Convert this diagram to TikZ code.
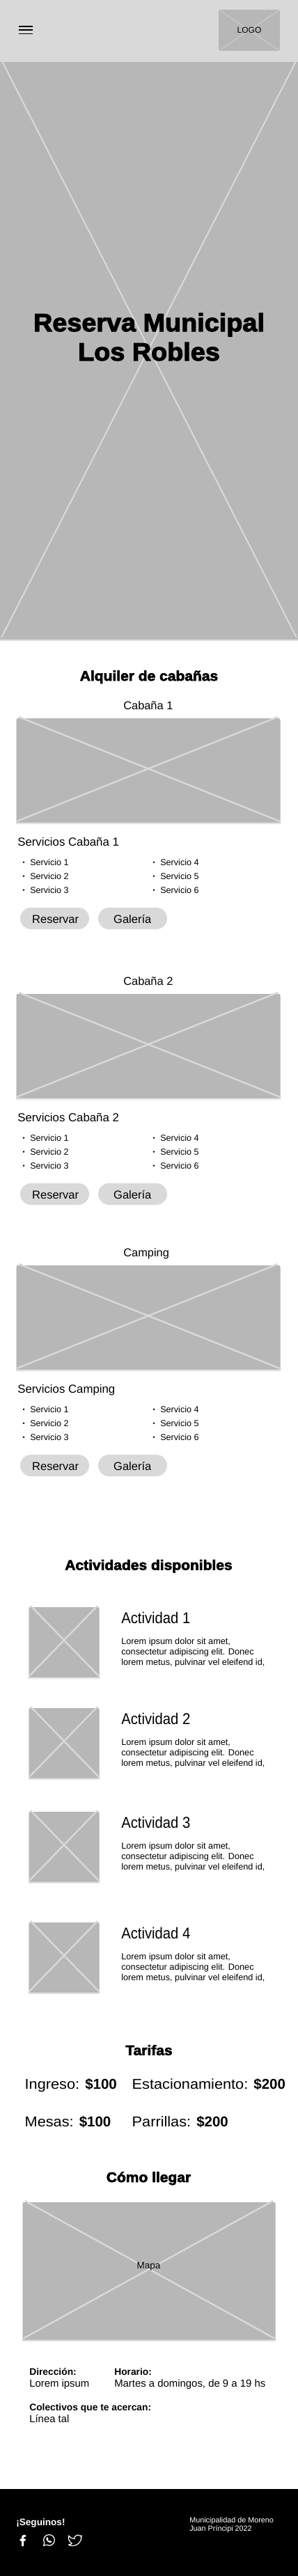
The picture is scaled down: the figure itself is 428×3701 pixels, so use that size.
\documentclass[tikz,border=0pt]{standalone}
\usepackage{fontspec}
\setmainfont{Liberation Sans}
\newfontfamily\heavy{Liberation Sans Bold}[FakeBold=3,FakeStretch=1.05]
\newfontfamily\semib{Liberation Sans Bold}
\newfontfamily\widef{Liberation Sans}[FakeStretch=1.06]
\newfontfamily\narr{Liberation Sans}[FakeStretch=0.9]
\definecolor{hdr}{HTML}{D9D9D9}
\definecolor{ph}{HTML}{B7B7B7}
\definecolor{xl}{HTML}{D9D9D9}
\tikzset{
  txt/.style={inner sep=0pt,outer sep=0pt,anchor=base west,text=black},
  ctr/.style={inner sep=0pt,outer sep=0pt,anchor=base,text=black},
  fnt/.style={font=\fontsize{#1}{#1}\selectfont},
  pill/.style={fill=hdr,rounded corners=15.5pt,draw=none},
  xline/.style={draw=xl,line width=2.4pt},
}
\newcommand{\wire}[6]{% name x1 y1 x2 y2 inset
  \foreach \s/\o in {5/0.03,4/0.05,3/0.07,2/0.08,1/0.10}{
    \fill[black,opacity=\o] (#2-0.25*\s,#3+2) rectangle (#4+0.25*\s,#5+\s);
  }
  \fill[ph] (#2,#3) rectangle (#4,#5);
  \coordinate (#1a) at (#2+#6,#3-2);
  \coordinate (#1b) at (#4,#5);
  \coordinate (#1c) at (#4-#6,#3-2);
  \coordinate (#1d) at (#2,#5);
  \draw[xline] (#1a) -- (#1b);
  \draw[xline] (#1c) -- (#1d);
}
\newcommand{\bul}[4]{\fill[black] (#1,#2-4.3) circle (1.3pt);
  \node[txt,fnt=12.6] (#3) at (#1+9.3,#2) {#4};}
\newcommand{\cabin}[4]{% key yoffset title servicios
  \begin{scope}[yshift=-#2pt]
    \node[txt,fnt=16.4] (t#1) at (177.3,1019) {#3};
    \wire{w#1}{24}{1032}{402}{1180}{3}
    \node[txt,fnt=16.8] (s#1) at (25.3,1215) {#4};
    \bul{34}{1243}{l#1a}{Servicio 1}
    \bul{34}{1263}{l#1b}{Servicio 2}
    \bul{34}{1283}{l#1c}{Servicio 3}
    \bul{221}{1243}{l#1d}{Servicio 4}
    \bul{221}{1263}{l#1e}{Servicio 5}
    \bul{221}{1283}{l#1f}{Servicio 6}
    \fill[pill] (29,1304) rectangle (128,1335);
    \fill[pill] (141,1304) rectangle (240,1335);
    \node[txt,fnt=16.5] (r#1) at (46.2,1326) {Reservar};
    \node[txt,fnt=16.5] (g#1) at (163.2,1326) {Galería};
  \end{scope}
}
\newcommand{\activity}[2]{% n top
  \wire{a#1}{42}{#2}{142}{#2+99}{2}
  \node[txt,font=\narr\fontsize{22.5}{22.5}\selectfont] (at#1) at (174.3,#2+23.5) {Actividad #1};
  \node[txt,fnt=12.7] (ap#1) at (174.3,#2+53.6) {Lorem ipsum dolor sit amet,};
  \node[txt,fnt=12.7] (aq#1) at (174.3,#2+68.5) {consectetur adipiscing elit. Donec};
  \node[txt,fnt=12.7] (ar#1) at (174.3,#2+83.3) {lorem metus, pulvinar vel eleifend id,};
}
\newcommand{\tarifa}[4]{\node[txt,font=\widef\fontsize{20.5}{20.5}\selectfont] (#1) at (#2,#3) {#4};}
\newcommand{\bval}[1]{{\semib\fontsize{20.5}{20.5}\selectfont \$#1}}
\begin{document}
\begin{tikzpicture}[x=1pt,y=-1pt]
\useasboundingbox (0,0) rectangle (428,3701);
\fill[white] (0,0) rectangle (428,3701);
% header
\fill[hdr] (0,0) rectangle (428,88);
\draw[black,line width=1.6pt] (27,37.8) -- (47,37.8) (27,43.2) -- (47,43.2) (27,48.6) -- (47,48.6);
\fill[ph] (314,14) rectangle (402,73);
\draw[xl,line width=0.6pt] (314,14) -- (402,73) (402,14) -- (314,73);
\node[ctr,fnt=12] (logo) at (358,48) {LOGO};
% hero
\foreach \s/\o in {4/0.03,3/0.05,2/0.07,1/0.10}{\fill[black,opacity=\o] (0,917) rectangle (428,918+\s);}
\fill[ph] (0,88) rectangle (428,918);
\draw[xl,line width=0.8pt] (0,88) -- (428,88);
\draw[xl,line width=2pt] (3,88) -- (426,916);
\draw[xl,line width=2pt] (425,88) -- (2,916);
\node[ctr,font=\heavy\fontsize{36}{36}\selectfont] (h1) at (214,476) {Reserva Municipal};
\node[ctr,font=\heavy\fontsize{36}{36}\selectfont] (h2) at (214,518) {Los Robles};
% alquiler
\node[ctr,font=\heavy\fontsize{20}{20}\selectfont] (alq) at (214,978) {Alquiler de cabañas};
\cabin{A}{0}{Cabaña 1}{Servicios Cabaña 1}
\cabin{B}{396}{Cabaña 2}{Servicios Cabaña 2}
\cabin{C}{786}{Camping}{Servicios Camping}
% actividades
\node[ctr,font=\heavy\fontsize{20}{20}\selectfont] (act) at (213.5,2255.5) {Actividades disponibles};
\activity{1}{2309}
\activity{2}{2454}
\activity{3}{2603}
\activity{4}{2762}
% tarifas
\node[ctr,font=\heavy\fontsize{20}{20}\selectfont] (tar) at (214,2952.6) {Tarifas};
\tarifa{t1}{35.7}{3001.7}{Ingreso: \bval{100}}
\tarifa{t2}{189.7}{3001.7}{Estacionamiento: \bval{200}}
\tarifa{t3}{35.7}{3055}{Mesas: \bval{100}}
\tarifa{t4}{189.7}{3055}{Parrillas: \bval{200}}
% como llegar
\node[ctr,font=\heavy\fontsize{20}{20}\selectfont] (com) at (213.5,3135) {Cómo llegar};
\wire{map}{33}{3164}{395}{3360}{3}
\node[ctr,fnt=13.5] (mapa) at (213.5,3259) {Mapa};
\node[txt,font=\semib\fontsize{13.8}{13.8}\selectfont] (d1) at (42.3,3412) {Dirección:};
\node[txt,fnt=14.9] (d2) at (42.3,3429) {Lorem ipsum};
\node[txt,font=\semib\fontsize{13.8}{13.8}\selectfont] (d3) at (164.3,3412) {Horario:};
\node[txt,fnt=14.9] (d4) at (164.3,3429) {Martes a domingos, de 9 a 19 hs};
\node[txt,font=\semib\fontsize{13.8}{13.8}\selectfont] (d5) at (42.3,3463) {Colectivos que te acercan:};
\node[txt,fnt=14.9] (d6) at (42.3,3480) {Línea tal};
% footer
\fill[black] (0,3576) rectangle (428,3701);
\node[txt,font=\semib\fontsize{13.6}{13.6}\selectfont,text=white] (seg) at (23.3,3628) {¡Seguinos!};
\node[txt,fnt=10.8,text=white] (m1) at (272.3,3624) {Municipalidad de Moreno};
\node[txt,fnt=10.8,text=white] (m2) at (272.3,3636) {Juan Príncipi 2022};
% facebook
\fill[white] (31,3658) -- (31,3650.5) -- (28.6,3650.5) -- (28.6,3647.6) -- (31,3647.6) -- (31,3645.5) .. controls (31,3643) and (32.6,3641.8) .. (34.6,3641.8) -- (37,3642) -- (37,3644.6) -- (35.4,3644.6) .. controls (34.3,3644.6) and (34,3645.2) .. (34,3646) -- (34,3647.6) -- (36.9,3647.6) -- (36.4,3650.5) -- (34,3650.5) -- (34,3658) -- cycle;
% whatsapp
\draw[white,line width=1.2pt,line join=round] (62.6,3657.3) -- (63.8,3653) .. controls (60.5,3647) and (65,3641.6) .. (70.4,3641.6) .. controls (75,3641.6) and (78.4,3645) .. (78.4,3649.4) .. controls (78.4,3655) and (72.5,3659.2) .. (67,3656.2) -- cycle;
\fill[white] (67,3645.5) .. controls (65.6,3646.5) and (66,3649) .. (68,3651) .. controls (70,3653) and (72.6,3654) .. (74,3652.6) -- (74,3651) -- (71.8,3650) -- (70.8,3651) .. controls (69.8,3650.5) and (69,3649.7) .. (68.5,3648.6) -- (69.4,3647.6) -- (68.4,3645.4) -- cycle;
% twitter
\draw[white,line width=1.2pt,line join=round] (98.6,3643) .. controls (101,3646) and (104,3647.6) .. (107,3647.6) .. controls (106.5,3644) and (109.5,3642) .. (112,3642) .. controls (113.5,3642) and (114.5,3642.6) .. (115.2,3643.4) -- (117.2,3642.8) -- (116.2,3645) -- (117,3645) .. controls (116.8,3652) and (111,3657.6) .. (104.5,3657.6) .. controls (102,3657.6) and (100,3657) .. (98.4,3656) .. controls (100.5,3656) and (102.2,3655.4) .. (103.4,3654.2) .. controls (99.8,3652) and (97.4,3648) .. (98.6,3643) -- cycle;
\end{tikzpicture}
\end{document}
